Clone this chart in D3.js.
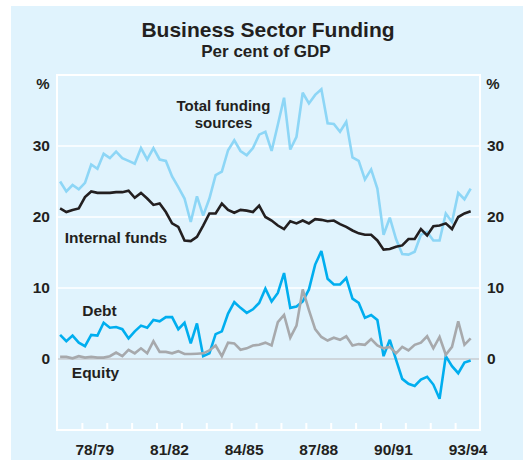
<!DOCTYPE html>
<html><head><meta charset="utf-8">
<script src="https://cdn.jsdelivr.net/npm/d3@7"></script>
<style>
html,body{margin:0;padding:0;background:#fff;}
svg{display:block;font-family:"Liberation Sans",Arial,Helvetica,sans-serif;font-weight:bold;}
</style></head><body>
<script>
// Quarterly data, Sep quarter 1977 onwards (per cent of GDP)
const fiscalYears = ["77/78","78/79","79/80","80/81","81/82","82/83","83/84","84/85","85/86","86/87","87/88","88/89","89/90","90/91","91/92","92/93","93/94"];
const tickLabels = ["78/79","81/82","84/85","87/88","90/91","93/94"];
const yTicks = [0,10,20,30];

const totalFunding = [25.0,23.6,24.5,23.9,24.8,27.4,26.8,28.9,28.3,29.2,28.3,27.9,27.5,29.7,28.1,29.7,28.1,27.9,25.7,24.2,22.6,19.3,22.9,20.2,22.6,25.9,26.4,29.4,30.8,29.3,28.7,29.7,31.6,32.0,29.3,33.0,36.8,29.5,31.3,37.5,36.0,37.2,38.0,33.2,33.1,32.0,33.4,28.4,27.9,25.3,26.7,24.0,17.5,19.9,16.9,14.8,14.7,15.1,17.5,17.9,16.7,16.7,20.5,19.3,23.4,22.5,24.0];
const internalFunds = [21.2,20.7,21.0,21.2,22.8,23.6,23.4,23.4,23.4,23.5,23.5,23.7,22.7,23.4,22.6,21.7,21.9,20.7,19.1,18.6,16.7,16.6,17.2,18.8,20.5,20.5,21.9,21.0,20.6,21.0,20.9,20.7,21.6,20.0,19.5,18.8,18.3,19.4,19.1,19.5,19.1,19.7,19.6,19.4,19.5,19.0,18.6,18.1,17.7,17.5,17.5,16.7,15.4,15.5,15.8,16.0,16.9,16.9,18.3,17.4,18.7,18.8,19.1,18.3,20.0,20.5,20.8];
const debt = [3.4,2.5,3.3,2.3,1.8,3.4,3.3,5.1,4.4,4.5,4.2,2.9,3.9,4.7,4.4,5.5,5.3,5.9,5.9,4.2,5.1,2.2,5.0,0.4,0.8,3.5,3.9,6.4,8.0,7.2,6.5,7.0,7.9,9.9,8.1,9.3,12.1,7.2,7.4,8.1,9.8,13.3,15.2,11.3,10.5,10.5,11.4,8.5,7.9,5.8,6.2,5.5,0.4,2.7,-0.1,-2.8,-3.5,-3.8,-2.9,-2.5,-3.6,-5.6,0.4,-1.0,-2.0,-0.5,-0.2];
const equity = [0.3,0.3,0.1,0.4,0.2,0.3,0.2,0.2,0.4,0.9,0.4,1.3,0.8,1.5,0.8,2.5,1.0,1.0,0.8,1.1,0.7,0.7,0.75,0.8,1.2,1.9,0.4,2.3,2.2,1.3,1.5,1.9,2.0,2.3,1.9,5.2,6.2,3.0,4.7,9.8,6.9,4.2,3.1,2.6,3.0,2.7,3.2,1.9,2.1,2.0,2.8,1.9,1.5,1.7,0.8,1.7,1.2,2.0,2.3,3.2,1.5,3.1,0.6,1.7,5.3,2.0,2.9];

const W = 523, H = 460;
const m = {left:57, right:480, top:75, bottom:430};
const svg = d3.select("body").append("svg").attr("width",W).attr("height",H);

svg.append("rect").attr("x",11).attr("y",6).attr("width",W-11).attr("height",H-6).attr("fill","#e0f3fd");

const nQ = fiscalYears.length*4;
const x = d3.scaleLinear().domain([0,nQ]).range([m.left,m.right]);
const y = d3.scaleLinear().domain([-10,40]).range([m.bottom,m.top]);

// gridlines
svg.append("g").selectAll("line").data(yTicks).join("line")
  .attr("x1",m.left).attr("x2",m.right)
  .attr("y1",d=>y(d)).attr("y2",d=>y(d))
  .attr("stroke",d=>d===0?"#c9cdd0":"#ffffff").attr("stroke-width",1.6);

// frame
svg.append("rect").attr("x",m.left).attr("y",m.top).attr("width",m.right-m.left).attr("height",m.bottom-m.top)
  .attr("fill","none").attr("stroke","#ffffff").attr("stroke-width",2);

// x ticks (year boundaries)
const xt = svg.append("g").attr("transform",`translate(0,${m.bottom})`)
  .call(d3.axisBottom(x).tickValues(d3.range(4,nQ,4)).tickSize(-7).tickFormat(""));
xt.select(".domain").remove();
xt.selectAll("line").attr("stroke","#ffffff").attr("stroke-width",2);

// x labels
const yearCenter = lbl => x(fiscalYears.indexOf(lbl)*4+2);
const xl = svg.append("g").attr("transform",`translate(0,${m.bottom})`)
  .call(d3.axisBottom(d3.scaleOrdinal().domain(tickLabels).range(tickLabels.map(yearCenter))).tickSize(0).tickPadding(14));
xl.select(".domain").remove();
xl.selectAll("text").attr("font-size","15.5px").attr("font-weight","bold").attr("font-family","Liberation Sans, Arial, sans-serif").attr("fill","#231f20").attr("dy","0.71em");

// y axes labels
const yl = svg.append("g").attr("transform",`translate(${m.left},0)`)
  .call(d3.axisLeft(y).tickValues(yTicks).tickSize(0).tickPadding(7).tickFormat(d3.format("d")));
const yr = svg.append("g").attr("transform",`translate(${m.right},0)`)
  .call(d3.axisRight(y).tickValues(yTicks).tickSize(0).tickPadding(7).tickFormat(d3.format("d")));
[yl,yr].forEach(g=>{
  g.select(".domain").remove();
  g.selectAll("text").attr("font-size","15.5px").attr("font-weight","bold").attr("font-family","Liberation Sans, Arial, sans-serif").attr("fill","#231f20");
});
svg.append("text").attr("x",43).attr("y",89).attr("text-anchor","middle").attr("font-size","15px").attr("fill","#231f20").text("%");
svg.append("text").attr("x",493).attr("y",89).attr("text-anchor","middle").attr("font-size","15px").attr("fill","#231f20").text("%");

// lines
const line = d3.line().x((d,i)=>x(i+0.5)).y(d=>y(d));
const series = [
  {data: totalFunding, color:"#8dd6f6"},
  {data: internalFunds, color:"#231f20"},
  {data: debt, color:"#00aeef"},
  {data: equity, color:"#a7a9ac"}
];
svg.append("g").selectAll("path").data(series).join("path")
  .attr("d",d=>line(d.data)).attr("fill","none").attr("stroke",d=>d.color)
  .attr("stroke-width",2.6).attr("stroke-linejoin","miter").attr("stroke-miterlimit",3);

// titles
svg.append("text").attr("x",268).attr("y",37).attr("text-anchor","middle").attr("font-size","21px").attr("fill","#231f20").text("Business Sector Funding");
svg.append("text").attr("x",266).attr("y",57).attr("text-anchor","middle").attr("font-size","17px").attr("fill","#231f20").text("Per cent of GDP");

// series labels
const lab = (t,xx,yy,fs)=>svg.append("text").attr("x",xx).attr("y",yy).attr("text-anchor","middle").attr("font-size",(fs||15.5)+"px").attr("fill","#231f20").text(t);
lab("Total funding",223.5,111,15);
lab("sources",223.5,127.5,15);
lab("Internal funds",116,243);
lab("Debt",99.5,316);
lab("Equity",95.5,378);
</script>
</body></html>
